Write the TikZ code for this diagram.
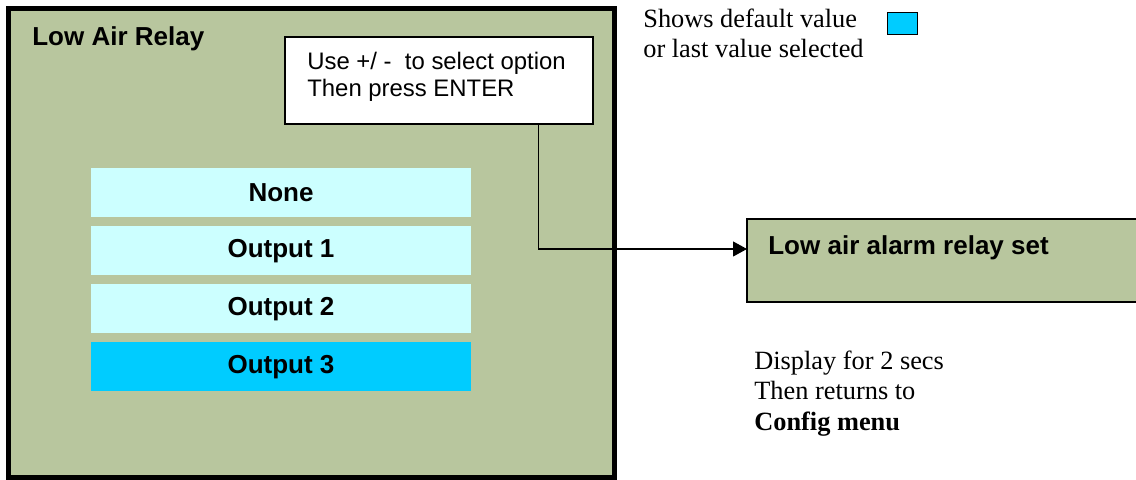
\documentclass[tikz,border=0pt]{standalone}
\usepackage{fontspec}
\setmainfont{Liberation Serif}
\setsansfont{Liberation Sans}
\usetikzlibrary{positioning, arrows.meta}
\definecolor{panelgreen}{RGB}{184,198,158}
\definecolor{choicelight}{RGB}{204,255,255}
\definecolor{choicesel}{RGB}{0,204,255}
\newcommand{\boldsans}{\sffamily\bfseries\fontsize{14.8}{17}\selectfont}
\newcommand{\plainsans}{\sffamily\fontsize{13.6}{15.3}\selectfont}
\newcommand{\plainserif}{\rmfamily\fontsize{15}{16.6}\selectfont}
\tikzset{
    x=0.02cm, y=-0.02cm, % one unit is one pixel, y runs downwards
    >={Triangle[length=0.28cm, width=0.3cm]}, % filled arrowheads
    panel/.style={draw, fill=panelgreen, inner sep=0pt, outer sep=0pt}, % green screens
    hintbox/.style={draw, fill=white, line width=1.1pt, inner sep=0pt, outer sep=0pt,
        minimum width=6.16cm, minimum height=1.74cm},
    choice/.style={fill=choicelight, minimum width=7.6cm, minimum height=0.99cm,
        inner sep=0pt, font=\boldsans}, % one line of the option list
    note/.style={inner sep=0pt, align=left, anchor=north west}, % free text
}

\begin{document}
\begin{tikzpicture}
    \useasboundingbox (0,0) rectangle (1136,480);

    % relay selection screen
    \node[panel, line width=2.8pt, minimum width=12.12cm, minimum height=9.38cm,
          anchor=north west] (relay) at (8.5,8.5) {};
    \node[inner sep=0pt, anchor=base west, font=\boldsans] (title) at (32,45) {Low Air Relay};

    \node[hintbox, anchor=north west] (hint) at (285,37) {};
    \node[note, font=\plainsans] (hinttext) at (307,51.5)
        {Use +/ -\ \ to select option\\Then press ENTER};

    % option list
    \node[choice] (none) at (281,192.75) {None};
    \node[choice] (out1) [below=0.156cm of none] {Output 1};
    \node[choice] (out2) [below=0.156cm of out1] {Output 2};
    \node[choice, fill=choicesel] (out3) [below=0.156cm of out2] {Output 3};

    % result screen
    \node[panel, line width=1.1pt, minimum width=7.9cm, minimum height=1.66cm,
          anchor=north west] (done) at (747,219) {};
    \node[inner sep=0pt, anchor=base west, font=\boldsans] (donetext) at (768,254)
        {Low air alarm relay set};

    % legend and remarks
    \node[note, font=\plainserif] (legend) at (643,9)
        {Shows default value\\or last value selected};
    \node[draw, fill=choicesel, line width=0.8pt, inner sep=0pt,
          minimum width=0.6cm, minimum height=0.44cm, anchor=north west] (key) at (887,12) {};
    \node[note, font=\plainserif\linespread{1}\fontsize{15}{17.3}\selectfont] (remark) at (754,350.5)
        {Display for 2 secs\\Then returns to\\\textbf{Config menu}};

    \draw[->, line width=0.6pt] ([xshift=2cm]hint.south) |- ([yshift=0.23cm]done.west);
\end{tikzpicture}
\end{document}
